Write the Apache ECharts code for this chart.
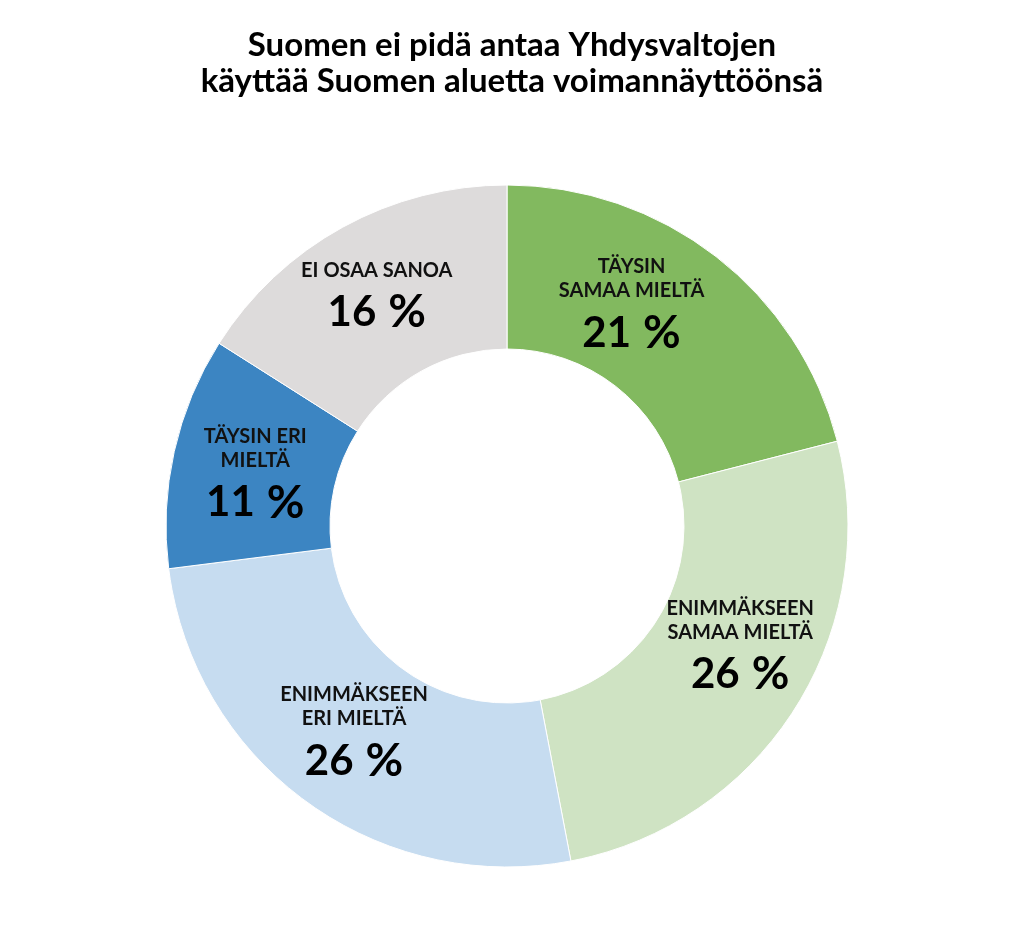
<!DOCTYPE html>
<html>
<head>
<meta charset="utf-8">
<script src="https://cdn.jsdelivr.net/npm/echarts@6/dist/echarts.min.js"></script>
<style>html,body{margin:0;padding:0;background:#fff;}#c{width:1024px;height:943px;}</style>
</head>
<body>
<div id="c"></div>
<script>
const titleLines = ['Suomen ei pidä antaa Yhdysvaltojen', 'käyttää Suomen aluetta voimannäyttöönsä'];
const categories = ['TÄYSIN\nSAMAA MIELTÄ', 'ENIMMÄKSEEN\nSAMAA MIELTÄ', 'ENIMMÄKSEEN\nERI MIELTÄ', 'TÄYSIN ERI\nMIELTÄ', 'EI OSAA SANOA'];
const values = [21, 26, 26, 11, 16];
const colors = ['#82b95f', '#cfe3c3', '#c6dcf0', '#3c85c2', '#dddbdb'];
const labelShift = [[-36, -10], [12, -16], [1, -1], [4, 10], [-4, 4]];

const chart = echarts.init(document.getElementById('c'));
chart.setOption({
  backgroundColor: '#fff',
  title: {
    text: titleLines.join('\n'),
    left: 'center',
    top: 22,
    textStyle: { fontFamily: 'Lato', fontWeight: 'bold', fontSize: 33, lineHeight: 36, color: '#000' }
  },
  series: [{
    type: 'pie',
    center: [507, 526],
    radius: [177, 341],
    startAngle: 90,
    clockwise: true,
    silent: true,
    itemStyle: { borderColor: '#fff', borderWidth: 1 },
    label: {
      show: true,
      position: 'inside',
      formatter: p => p.name.split('\n').map(s => '{n|' + s + '}').join('\n') + '\n{v|' + p.value + '}{g| }{p|%}',
      rich: {
        n: { fontFamily: 'Lato', fontWeight: 'bold', fontSize: 20, lineHeight: 24, color: '#111', align: 'center' },
        v: { fontFamily: 'Lato', fontWeight: 'bold', fontSize: 42, lineHeight: 60, color: '#000' },
        g: { fontSize: 42, width: 12, lineHeight: 60 },
        p: { fontFamily: 'Lato', fontWeight: 'bold', fontSize: 46, lineHeight: 60, color: '#000' }
      }
    },
    labelLayout: p => ({ dx: labelShift[p.dataIndex][0], dy: labelShift[p.dataIndex][1] }),
    data: categories.map((c, i) => ({ name: c, value: values[i], itemStyle: { color: colors[i] } }))
  }]
});
</script>
</body>
</html>
